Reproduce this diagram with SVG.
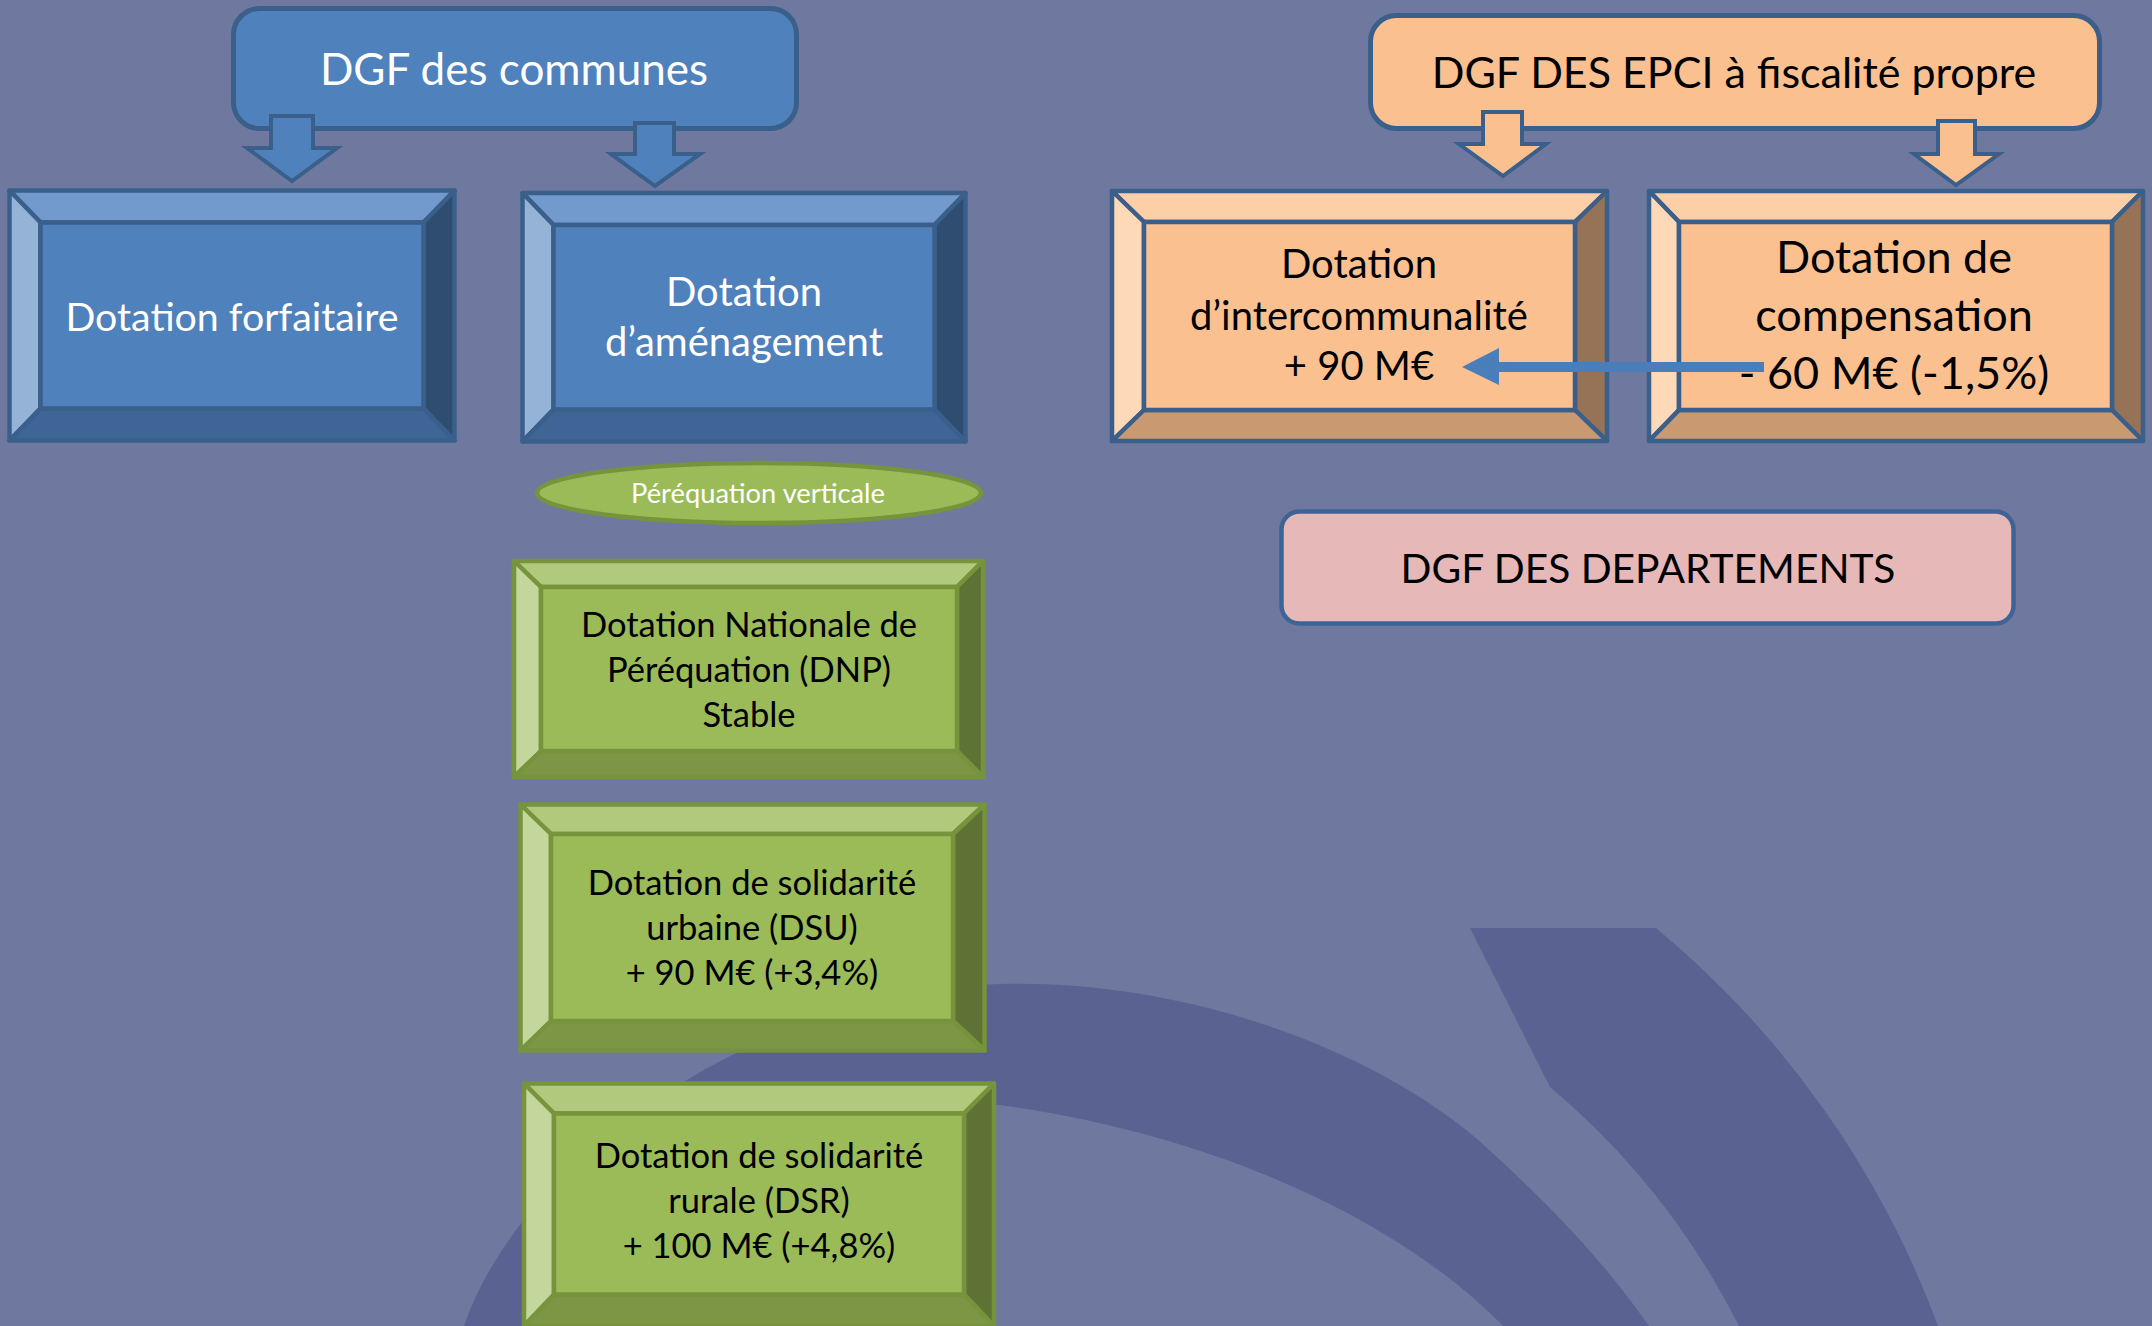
<svg xmlns="http://www.w3.org/2000/svg" width="2152" height="1326" viewBox="0 0 2152 1326">
<style>
.t{font-family:Lato,"Liberation Sans",sans-serif;text-anchor:middle}
.w{fill:#ffffff}.k{fill:#000000}
.bb polygon,.bb rect{stroke:#3A5F8B;stroke-width:4.5;stroke-linejoin:round}
.ob polygon,.ob rect{stroke:#3A5F8B;stroke-width:4.5;stroke-linejoin:round}
.gb polygon,.gb rect{stroke:#77933C;stroke-width:4.5;stroke-linejoin:round}
.bt{fill:#729ACC}.bl{fill:#95B3D7}.br{fill:#2E4D70}.bo{fill:#3E6596}.bf{fill:#4F81BD}
.ot{fill:#FCCFA6}.ol{fill:#FDD9B8}.or{fill:#967356}.oo{fill:#C99A72}.of{fill:#FAC090}
.gt{fill:#B1C97C}.gl{fill:#C3D69B}.gr{fill:#5D7234}.go{fill:#7D9646}.gf{fill:#9BBB59}
.ba{fill:#4F81BD;stroke:#3A5F8B;stroke-width:4;stroke-linejoin:miter}
.oa{fill:#FAC090;stroke:#3A5F8B;stroke-width:4;stroke-linejoin:miter}
</style>
<g id="background">
<rect x="0" y="0" width="2152" height="1326" fill="#6F789F"/>
<path d="M464,1326 C520,1160 760,990 1000,984 C1200,979 1400,1060 1500,1160 C1560,1215 1610,1270 1649,1326 L1503,1326 C1420,1240 1250,1140 1000,1105 C800,1080 620,1180 560,1326 Z" fill="#5A6291"/>
<path d="M1470,928 L1656,928 A942,942 0 0 1 1938,1326 L1739,1326 A757,757 0 0 0 1550,1087 Z" fill="#5A6291"/>
</g>
<g id="dgf-communes">
<rect x="233.5" y="8.5" width="563" height="120" rx="26" fill="#4F81BD" stroke="#3A5F8B" stroke-width="5"/>
<text class="t w" x="514" y="85" font-size="44">DGF des communes</text>
</g>
<g id="dgf-epci">
<rect x="1370.5" y="15.5" width="729" height="113" rx="26" fill="#FAC090" stroke="#3A5F8B" stroke-width="5"/>
<text class="t k" x="1734" y="88" font-size="43">DGF DES EPCI à fiscalité propre</text>
</g>
<g id="dotation-forfaitaire" class="bb">
<polygon class="bt" points="9.5,190.5 454.5,190.5 423.5,222.5 40.5,222.5"/>
<polygon class="bl" points="9.5,190.5 40.5,222.5 40.5,408.5 9.5,440.5"/>
<polygon class="br" points="454.5,190.5 454.5,440.5 423.5,408.5 423.5,222.5"/>
<polygon class="bo" points="9.5,440.5 40.5,408.5 423.5,408.5 454.5,440.5"/>
<rect class="bf" x="40.5" y="222.5" width="383" height="186"/>
<text class="t w" x="232" y="331" font-size="39.3">Dotation forfaitaire</text>
</g>
<g id="dotation-amenagement" class="bb">
<polygon class="bt" points="522.5,193 965.5,193 934.5,225 553.5,225"/>
<polygon class="bl" points="522.5,193 553.5,225 553.5,409.5 522.5,441.5"/>
<polygon class="br" points="965.5,193 965.5,441.5 934.5,409.5 934.5,225"/>
<polygon class="bo" points="522.5,441.5 553.5,409.5 934.5,409.5 965.5,441.5"/>
<rect class="bf" x="553.5" y="225" width="381" height="184.5"/>
<text class="t w" x="744" y="306" font-size="40">Dotation</text>
<text class="t w" x="744" y="356" font-size="40">d’aménagement</text>
</g>
<g id="dotation-intercommunalite" class="ob">
<polygon class="ot" points="1112,191 1607,191 1575,222 1144,222"/>
<polygon class="ol" points="1112,191 1144,222 1144,410 1112,441"/>
<polygon class="or" points="1607,191 1607,441 1575,410 1575,222"/>
<polygon class="oo" points="1112,441 1144,410 1575,410 1607,441"/>
<rect class="of" x="1144" y="222" width="431" height="188"/>
<text class="t k" x="1359" y="278" font-size="40">Dotation</text>
<text class="t k" x="1359" y="330" font-size="40">d’intercommunalité</text>
<text class="t k" x="1359" y="380" font-size="40">+ 90 M€</text>
</g>
<g id="dotation-compensation" class="ob">
<polygon class="ot" points="1649,191 2143,191 2112,222 1679,222"/>
<polygon class="ol" points="1649,191 1679,222 1679,410 1649,441"/>
<polygon class="or" points="2143,191 2143,441 2112,410 2112,222"/>
<polygon class="oo" points="1649,441 1679,410 2112,410 2143,441"/>
<rect class="of" x="1679" y="222" width="433" height="188"/>
<text class="t k" x="1894" y="273" font-size="45">Dotation de</text>
<text class="t k" x="1894" y="331" font-size="45">compensation</text>
<text class="t k" x="1894" y="389" font-size="45">- 60 M€ (-1,5%)</text>
</g>
<g id="dgf-departements">
<rect x="1281.5" y="511.5" width="732" height="112" rx="18" fill="#E6B8B7" stroke="#3E6496" stroke-width="4.5"/>
<text class="t k" x="1648" y="583" font-size="40.7">DGF DES DEPARTEMENTS</text>
</g>
<g id="perequation-verticale">
<ellipse cx="759" cy="493" rx="222" ry="30" fill="#9BBB59" stroke="#77933C" stroke-width="4.5"/>
<text class="t w" x="758" y="503" font-size="27.3">Péréquation verticale</text>
</g>
<g id="dnp" class="gb">
<polygon class="gt" points="514,561 983,561 957,587 541,587"/>
<polygon class="gl" points="514,561 541,587 541,751 514,777"/>
<polygon class="gr" points="983,561 983,777 957,751 957,587"/>
<polygon class="go" points="514,777 541,751 957,751 983,777"/>
<rect class="gf" x="541" y="587" width="416" height="164"/>
<text class="t k" x="749" y="637" font-size="34.5">Dotation Nationale de</text>
<text class="t k" x="749" y="682" font-size="34.5">Péréquation (DNP)</text>
<text class="t k" x="749" y="727" font-size="34.5">Stable</text>
</g>
<g id="dsu" class="gb">
<polygon class="gt" points="520.5,804.5 984.5,804.5 953,834 551,834"/>
<polygon class="gl" points="520.5,804.5 551,834 551,1021 520.5,1050.5"/>
<polygon class="gr" points="984.5,804.5 984.5,1050.5 953,1021 953,834"/>
<polygon class="go" points="520.5,1050.5 551,1021 953,1021 984.5,1050.5"/>
<rect class="gf" x="551" y="834" width="402" height="187"/>
<text class="t k" x="752" y="895" font-size="34.5">Dotation de solidarité</text>
<text class="t k" x="752" y="940" font-size="34.5">urbaine (DSU)</text>
<text class="t k" x="752" y="985" font-size="34.5">+ 90 M€ (+3,4%)</text>
</g>
<g id="dsr" class="gb">
<polygon class="gt" points="524,1083.5 994,1083.5 964,1113.5 554,1113.5"/>
<polygon class="gl" points="524,1083.5 554,1113.5 554,1294.5 524,1326"/>
<polygon class="gr" points="994,1083.5 994,1326 964,1294.5 964,1113.5"/>
<polygon class="go" points="524,1326 554,1294.5 964,1294.5 994,1326"/>
<rect class="gf" x="554" y="1113.5" width="410" height="181"/>
<text class="t k" x="759" y="1168" font-size="34.5">Dotation de solidarité</text>
<text class="t k" x="759" y="1213" font-size="34.5">rurale (DSR)</text>
<text class="t k" x="759" y="1258" font-size="34.5">+ 100 M€ (+4,8%)</text>
</g>
<g id="connectors">
<polygon class="ba" points="271,116 313,116 313,148 337,148 292,181 247,148 271,148"/>
<polygon class="ba" points="635,123 674,123 674,154 700,154 655,186 611,154 635,154"/>
<polygon class="oa" points="1483,112 1522,112 1522,144 1546,144 1503,176 1459,144 1483,144"/>
<polygon class="oa" points="1938,121 1975,121 1975,154 1999,154 1956,185 1914,154 1938,154"/>
<polygon fill="#4A7EBB" points="1764,362 1499,362 1499,348 1462,367 1499,385 1499,372 1764,372"/>
</g>
</svg>
